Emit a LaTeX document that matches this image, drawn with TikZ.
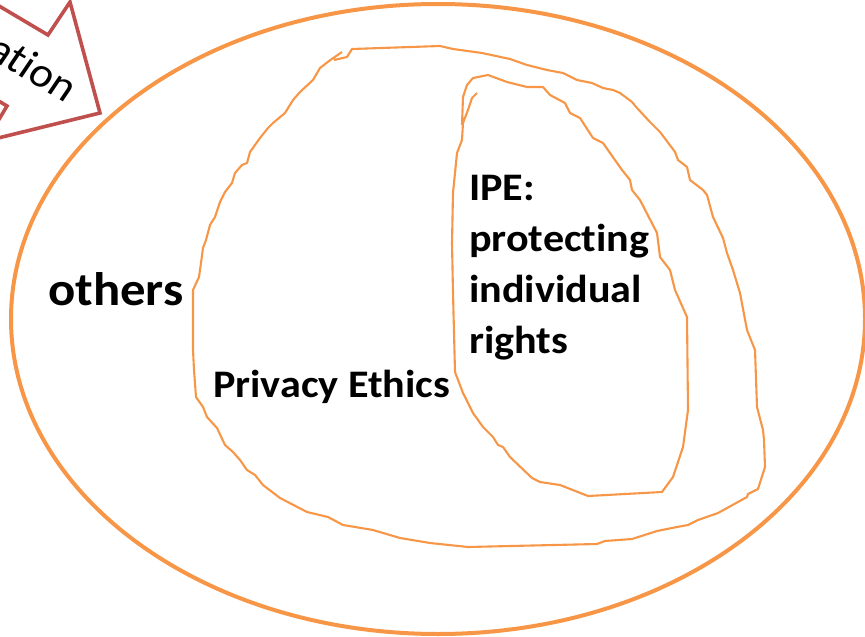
\documentclass[tikz,border=0pt]{standalone}
\usepackage{fontspec}
\setmainfont{Carlito}[Ligatures=NoCommon]
\usetikzlibrary{calc,positioning}
\definecolor{rimorange}{HTML}{F79646}
\definecolor{arrowred}{HTML}{C0504D}

\begin{document}
\begin{tikzpicture}[x=1pt, y=-1pt, line join=round,
    rim/.style={draw=rimorange, line width=4pt},
    blob/.style={draw=rimorange, line width=2.1pt},
    label/.style={inner sep=0pt, xscale=1.08, align=left,
      font=\bfseries\fontsize{39}{51}\selectfont}]

    \useasboundingbox (0,0) rectangle (865,637);

% the outer ellipse

    \draw[rim] (438,319) ellipse [x radius=427, y radius=315];

% privacy ethics

    \draw[blob] plot coordinates {(342,52) (329,61) (320,68) (313,80) (300,92)
    (293,100) (285,113) (273,123) (268,128) (260,138) (250,152) (247,163)
    (242,165) (235,173) (232,183) (225,192) (220,202) (215,217) (210,225)
    (206,240) (203,248) (201,263) (199,277) (193,290) (193,350) (194,370)
    (196,397) (203,407) (207,417) (217,428) (225,445) (233,452) (240,460)
    (247,470) (255,475) (263,485) (280,498) (307,512) (328,517) (343,525)
    (373,530) (400,538) (430,543) (468,547) (597,544) (605,541) (632,539)
    (657,531) (677,527) (688,525) (698,520) (718,513) (747,497) (748,494)
    (758,489) (765,467) (764,440) (763,430) (757,407) (755,350) (747,330)
    (740,293) (733,270) (727,253) (723,238) (713,217) (707,195) (703,190)
    (690,180) (687,167) (678,160) (675,152) (660,132) (650,122) (637,108)
    (632,102) (620,93) (613,90) (603,88) (592,83) (577,80) (563,73) (547,70)
    (527,65) (510,59) (482,53) (453,49) (440,46) (352,49) (347,57) (334,60)};

% IPE

    \draw[blob] plot coordinates {(477,93) (472,98) (468,110) (463,123)
    (462,140) (457,153) (453,193) (452,243) (453,293) (455,372) (463,393)
    (473,413) (483,427) (493,437) (498,445) (503,447) (510,457) (532,478)
    (540,482) (560,485) (588,496) (662,492) (673,477) (683,447) (688,410)
    (687,317) (675,290) (670,270) (660,257) (657,233) (640,200) (632,190)
    (630,180) (622,170) (603,143) (593,138) (580,118) (570,113) (565,103)
    (550,95) (543,87) (527,87) (507,82) (488,75) (473,78) (467,85) (463,97)
    (462,125)};

% the labels

    \node[label, anchor=base west] (others) at (48,305)
      {\fontsize{47}{56}\selectfont others};
    \node[label, anchor=base west] (privacy) at (213,397) {Privacy Ethics};
    \node[label, anchor=north west] (ipe) at (469,175)
      {IPE:\\protecting\\individual\\rights};

% the arrow

    \draw[draw=arrowred, line width=3.6pt, line join=miter, fill=white]
      (-124,-67) -- (48,35) -- (70,2) -- (100,113) -- (-14,141) -- (7,106)
      -- (-165,4) -- cycle;
    \node[inner sep=0pt, xscale=1.08, rotate=-32, anchor=base east,
      font=\fontsize{42}{50}\selectfont] (ation) at (66,103) {ation};

\end{tikzpicture}
\end{document}
